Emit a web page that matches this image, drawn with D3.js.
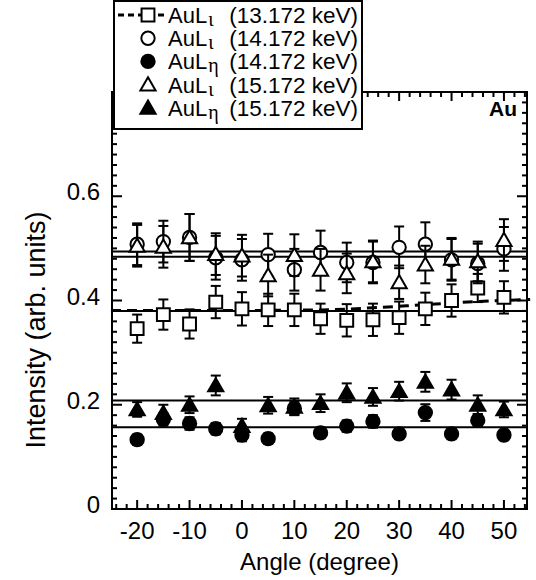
<!DOCTYPE html>
<html>
<head>
<meta charset="utf-8">
<title></title>
<script src="https://d3js.org/d3.v7.min.js"></script>
<style>
  body { margin: 0; background: #fff; }
  text { font-family: "Liberation Sans", Arial, Helvetica, sans-serif; fill: #000; }
</style>
</head>
<body>
<div id="my_dataviz"></div>
<script>
// angles measured (degree)
var angles = [-20, -15, -10, -5, 0, 5, 10, 15, 20, 25, 30, 35, 40, 45, 50];

// AuL iota, 13.172 keV (open squares)
var iota13 = [0.346, 0.373, 0.355, 0.397, 0.384, 0.382, 0.382, 0.365, 0.362, 0.363, 0.367, 0.384, 0.400, 0.424, 0.406];
var iota13Err = [0.027, 0.029, 0.028, 0.031, 0.032, 0.031, 0.031, 0.029, 0.031, 0.031, 0.031, 0.031, 0.031, 0.027, 0.031];
// AuL iota, 14.172 keV (open circles)
var iota14 = [0.508, 0.513, 0.521, 0.482, 0.478, 0.488, 0.459, 0.492, 0.473, 0.473, 0.502, 0.508, 0.478, 0.471, 0.499];
var iota14Err = [0.040, 0.040, 0.045, 0.042, 0.040, 0.040, 0.040, 0.042, 0.038, 0.040, 0.040, 0.042, 0.040, 0.038, 0.042];
// AuL eta, 14.172 keV (filled circles)
var eta14 = [0.133, 0.172, 0.164, 0.154, 0.142, 0.135, 0.193, 0.146, 0.159, 0.168, 0.144, 0.185, 0.144, 0.170, 0.142];
var eta14Err = [0.010, 0.012, 0.012, 0.011, 0.012, 0.010, 0.012, 0.010, 0.011, 0.012, 0.010, 0.016, 0.010, 0.012, 0.010];
// AuL iota, 15.172 keV (open triangles)
var iota15 = [0.505, 0.503, 0.521, 0.489, 0.486, 0.448, 0.487, 0.459, 0.452, 0.475, 0.435, 0.469, 0.480, 0.475, 0.516];
var iota15Err = [0.040, 0.040, 0.045, 0.040, 0.040, 0.040, 0.040, 0.040, 0.038, 0.040, 0.032, 0.036, 0.040, 0.038, 0.040];
// AuL eta, 15.172 keV (filled triangles)
var eta15 = [0.191, 0.184, 0.200, 0.237, 0.159, 0.199, 0.196, 0.203, 0.223, 0.215, 0.226, 0.244, 0.229, 0.200, 0.191];
var eta15Err = [0.014, 0.016, 0.016, 0.019, 0.014, 0.016, 0.016, 0.017, 0.018, 0.017, 0.018, 0.019, 0.019, 0.018, 0.015];

// flat fit levels (solid lines)
var fitLevels = [0.494, 0.484, 0.380, 0.208, 0.157];
// dashed fit through the 13.172 keV points
var dashAngles = [-25, 0, 15, 25, 35, 45, 55];
var dashValues = [0.381, 0.381, 0.382, 0.386, 0.392, 0.398, 0.402];

// axis ticks
var xMajor = [-20, -10, 0, 10, 20, 30, 40, 50];
var yMajor = [0, 0.2, 0.4, 0.6];
var yLabels = ["0", "0.2", "0.4", "0.6"];

var W = 536, H = 580;
var pLeft = 112, pRight = 527, pTop = 92, pBottom = 509;

var svg = d3.select("#my_dataviz")
  .append("svg")
    .attr("width", W)
    .attr("height", H);

svg.append("rect").attr("width", W).attr("height", H).attr("fill", "#fff");

var x = d3.scaleLinear().domain([-24.8, 54.4]).range([pLeft, pRight]);
var y = d3.scaleLinear().domain([0, 0.8]).range([pBottom, pTop]);

var xMinor = d3.range(-24, 55, 2);
var yMinor = d3.range(0, 0.81, 0.02);

// frame
svg.append("rect")
  .attr("x", pLeft).attr("y", pTop)
  .attr("width", pRight - pLeft).attr("height", pBottom - pTop)
  .attr("fill", "none").attr("stroke", "#000").attr("stroke-width", 2);

var ticks = svg.append("g").attr("stroke", "#000").attr("stroke-width", 2);
xMinor.forEach(function(d) {
  var len = xMajor.indexOf(d) >= 0 ? 9 : 5;
  ticks.append("line").attr("x1", x(d)).attr("x2", x(d)).attr("y1", pBottom).attr("y2", pBottom - len);
  ticks.append("line").attr("x1", x(d)).attr("x2", x(d)).attr("y1", pTop).attr("y2", pTop + len);
});
yMinor.forEach(function(d, i) {
  var len = i % 10 == 0 ? 10 : 5;
  ticks.append("line").attr("y1", y(d)).attr("y2", y(d)).attr("x1", pLeft).attr("x2", pLeft + len);
  ticks.append("line").attr("y1", y(d)).attr("y2", y(d)).attr("x1", pRight).attr("x2", pRight - len);
});

// tick labels
svg.append("g").selectAll("text")
  .data(xMajor).enter().append("text")
    .attr("x", function(d) { return x(d); })
    .attr("y", pBottom + 30)
    .attr("text-anchor", "middle")
    .style("font-size", "24px")
    .text(function(d) { return d; });

svg.append("g").selectAll("text")
  .data(yMajor).enter().append("text")
    .attr("x", pLeft - 12)
    .attr("y", function(d) { return y(d) + 4; })
    .attr("text-anchor", "end")
    .style("font-size", "24px")
    .text(function(d, i) { return yLabels[i]; });

// axis titles
svg.append("text")
  .attr("x", (pLeft + pRight) / 2)
  .attr("y", 570)
  .attr("text-anchor", "middle")
  .style("font-size", "24px")
  .text("Angle (degree)");

svg.append("text")
  .attr("transform", "translate(45,330) rotate(-90)")
  .attr("text-anchor", "middle")
  .style("font-size", "27px")
  .text("Intensity (arb. units)");

svg.append("text")
  .attr("x", pRight - 10).attr("y", pTop + 24)
  .attr("text-anchor", "end")
  .style("font-size", "21px").style("font-weight", "bold")
  .text("Au");

// fit lines
svg.append("g").selectAll("line")
  .data(fitLevels).enter().append("line")
    .attr("x1", pLeft).attr("x2", pRight)
    .attr("y1", function(d) { return y(d); })
    .attr("y2", function(d) { return y(d); })
    .attr("stroke", "#000").attr("stroke-width", 2);

var dashLine = d3.line()
  .x(function(d) { return x(d[0]); })
  .y(function(d) { return y(d[1]); })
  .curve(d3.curveMonotoneX);
svg.append("path")
  .datum(dashAngles.map(function(a, i) { return [a, dashValues[i]]; }))
  .attr("d", dashLine)
  .attr("fill", "none").attr("stroke", "#000")
  .attr("stroke-width", 3).attr("stroke-dasharray", "10,6");

// marker shapes
var symbols = {
  square: d3.symbol().type(d3.symbolSquare).size(165),
  circle: d3.symbol().type(d3.symbolCircle).size(140),
  triangle: d3.symbol().type(d3.symbolTriangle).size(100)
};

function drawSeries(vals, errs, shape, filled) {
  var g = svg.append("g");
  var pts = angles.map(function(a, i) { return {a: a, v: vals[i], e: errs[i]}; });
  var eb = g.append("g").attr("stroke", "#000").attr("stroke-width", 2);
  pts.forEach(function(p) {
    var cx = x(p.a);
    eb.append("line").attr("x1", cx).attr("x2", cx).attr("y1", y(p.v - p.e)).attr("y2", y(p.v + p.e));
    eb.append("line").attr("x1", cx - 5).attr("x2", cx + 5).attr("y1", y(p.v - p.e)).attr("y2", y(p.v - p.e));
    eb.append("line").attr("x1", cx - 5).attr("x2", cx + 5).attr("y1", y(p.v + p.e)).attr("y2", y(p.v + p.e));
  });
  g.selectAll("path.m").data(pts).enter().append("path")
    .attr("class", "m")
    .attr("transform", function(p) { return "translate(" + x(p.a) + "," + (y(p.v) + (shape == "triangle" ? 1.5 : 0)) + ")"; })
    .attr("d", symbols[shape])
    .attr("fill", filled ? "#000" : "#fff")
    .attr("stroke", "#000").attr("stroke-width", 2);
}

drawSeries(iota13, iota13Err, "square", false);
drawSeries(iota14, iota14Err, "circle", false);
drawSeries(iota15, iota15Err, "triangle", false);
drawSeries(eta14, eta14Err, "circle", true);
drawSeries(eta15, eta15Err, "triangle", true);

// legend
var legendRows = [
  {shape: "square", filled: false, sub: "\u03b9", label: "(13.172 keV)"},
  {shape: "circle", filled: false, sub: "\u03b9", label: "(14.172 keV)"},
  {shape: "circle", filled: true, sub: "\u03b7", label: "(14.172 keV)"},
  {shape: "triangle", filled: false, sub: "\u03b9", label: "(15.172 keV)"},
  {shape: "triangle", filled: true, sub: "\u03b7", label: "(15.172 keV)"}
];

var lg = svg.append("g");
lg.append("rect")
  .attr("x", 114).attr("y", 1)
  .attr("width", 248).attr("height", 128)
  .attr("fill", "#fff").attr("stroke", "#000").attr("stroke-width", 2);

legendRows.forEach(function(r, i) {
  var cy = 15 + i * 23.2;
  if (i == 0) {
    lg.append("line").attr("x1", 118).attr("x2", 167).attr("y1", cy).attr("y2", cy)
      .attr("stroke", "#000").attr("stroke-width", 3).attr("stroke-dasharray", "6,4");
  }
  lg.append("path")
    .attr("transform", "translate(148," + (cy + (r.shape == "triangle" ? 1.5 : 0)) + ")")
    .attr("d", symbols[r.shape])
    .attr("fill", r.filled ? "#000" : "#fff")
    .attr("stroke", "#000").attr("stroke-width", 2);
  var t = lg.append("text")
    .attr("x", 168).attr("y", cy + 8)
    .style("font-size", "22px");
  t.append("tspan").text("AuL");
  t.append("tspan").attr("dy", 3).attr("dx", 1)
    .style("font-family", "'Liberation Serif', serif").style("font-size", "20px")
    .text(r.sub);
  lg.append("text")
    .attr("x", 358).attr("y", cy + 8)
    .attr("text-anchor", "end")
    .style("font-size", "22.5px")
    .text(r.label);
});
</script>
</body>
</html>
